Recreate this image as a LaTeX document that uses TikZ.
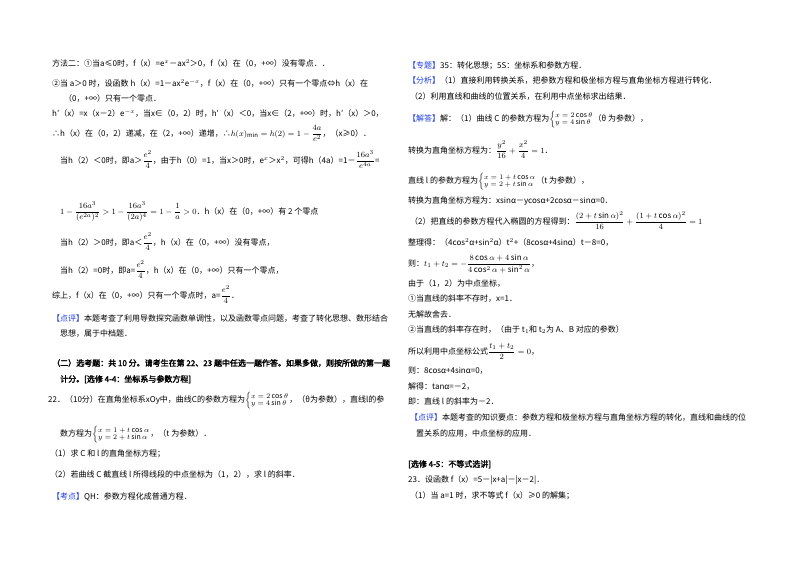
\documentclass[tikz,border=0pt]{standalone}
\usepackage{fontspec}
\usepackage{amsmath}
\setmainfont{Noto Sans CJK SC}
\newfontfamily\cjkb[FakeBold=2.5]{Noto Sans CJK SC}
\definecolor{hb}{RGB}{30,60,220}
\newcommand{\hl}[1]{{\color{hb}【#1】}}
\newcommand{\fr}[2]{\dfrac{#1}{#2}}
\newcommand{\cs}[2]{{\fontsize{7}{8}\selectfont$\left\{\begin{array}{@{}l@{}}#1\\[-1pt] #2\end{array}\right.$}}
\tikzset{t/.style={anchor=base west,inner sep=0pt,font=\fontsize{8}{9}\selectfont}}
\begin{document}
\begin{tikzpicture}[x=1pt,y=-1pt]
\useasboundingbox[fill=white] (0,0) rectangle (800,565);
% left column
\node[t] (l1) at (52,66) {方法二：①当a≤0时，f（x）=e$^x$－ax$^2$＞0，f（x）在（0，+∞）没有零点．．};
\node[t] (l2) at (52,86) {②当 a＞0 时，设函数 h（x）=1－ax$^2$e$^{-x}$，f（x）在（0，+∞）只有一个零点⇔h（x）在};
\node[t] (l3) at (64,101) {（0，+∞）只有一个零点．};
\node[t] (l4) at (52,116) {h′（x）=x（x－2）e$^{-x}$，当x∈（0，2）时，h′（x）＜0，当x∈（2，+∞）时，h′（x）＞0，};
\node[t] (l5) at (52,136) {∴h（x）在（0，2）递减，在（2，+∞）递增，∴$h(x)_{\min}=h(2)=1-\fr{4a}{e^2}$，（x≥0）．};
\node[t] (l6) at (60,163) {当h（2）＜0时，即a＞$\fr{e^2}{4}$，由于h（0）=1，当x＞0时，e$^x$＞x$^2$，可得h（4a）=1－$\fr{16a^3}{e^{4a}}$=};
\node[t] (l7) at (60,214) {$1-\fr{16a^3}{(e^{2a})^2}>1-\fr{16a^3}{(2a)^4}=1-\fr{1}{a}>0$．h（x）在（0，+∞）有 2 个零点};
\node[t] (l8) at (60,245) {当h（2）＞0时，即a＜$\fr{e^2}{4}$，h（x）在（0，+∞）没有零点，};
\node[t] (l9) at (60,273) {当h（2）=0时，即a=$\fr{e^2}{4}$，h（x）在（0，+∞）只有一个零点，};
\node[t] (l10) at (52,298) {综上，f（x）在（0，+∞）只有一个零点时，a=$\fr{e^2}{4}$．};
\node[t] (l11) at (52,321) {\hl{点评}本题考查了利用导数探究函数单调性，以及函数零点问题，考查了转化思想、数形结合};
\node[t] (l12) at (60,336) {思想，属于中档题．};
\node[t,font=\fontsize{8}{9}\cjkb] (l13) at (52,366) {（二）选考题：共 10 分。请考生在第 22、23 题中任选一题作答。如果多做，则按所做的第一题};
\node[t,font=\fontsize{8}{9}\cjkb] (l14) at (60,382) {计分。[选修 4-4：坐标系与参数方程]};
\node[t] (l15) at (48,402) {22．（10分）在直角坐标系xOy中，曲线C的参数方程为\cs{x=2\cos\theta}{y=4\sin\theta}，（θ为参数），直线l的参};
\node[t] (l16) at (60,436) {数方程为\cs{x=1+t\cos\alpha}{y=2+t\sin\alpha}，（t 为参数）．};
\node[t] (l17) at (50,456) {（1）求 C 和 l 的直角坐标方程；};
\node[t] (l18) at (50,477) {（2）若曲线 C 截直线 l 所得线段的中点坐标为（1，2），求 l 的斜率．};
\node[t] (l19) at (52,499) {\hl{考点}QH：参数方程化成普通方程．};
% right column
\node[t] (r1) at (408,68) {\hl{专题}35：转化思想；5S：坐标系和参数方程．};
\node[t] (r2) at (408,83) {\hl{分析}（1）直接利用转换关系，把参数方程和极坐标方程与直角坐标方程进行转化．};
\node[t] (r3) at (410,99) {（2）利用直线和曲线的位置关系，在利用中点坐标求出结果．};
\node[t] (r4) at (408,121) {\hl{解答}解：（1）曲线 C 的参数方程为\cs{x=2\cos\theta}{y=4\sin\theta}（θ 为参数），};
\node[t] (r5) at (408,153) {转换为直角坐标方程为：$\fr{y^2}{16}+\fr{x^2}{4}=1$．};
\node[t] (r6) at (408,183) {直线 l 的参数方程为\cs{x=1+t\cos\alpha}{y=2+t\sin\alpha}（t 为参数），};
\node[t] (r7) at (408,203) {转换为直角坐标方程为：xsinα－ycosα+2cosα－sinα=0．};
\node[t] (r8) at (410,224) {（2）把直线的参数方程代入椭圆的方程得到：$\fr{(2+t\sin\alpha)^2}{16}+\fr{(1+t\cos\alpha)^2}{4}=1$};
\node[t] (r9) at (408,245) {整理得：（4cos$^2$α+sin$^2$α）t$^2$+（8cosα+4sinα）t－8=0，};
\node[t] (r10) at (408,266) {则：$t_1+t_2=-\fr{8\cos\alpha+4\sin\alpha}{4\cos^2\alpha+\sin^2\alpha}$，};
\node[t] (r11) at (408,286) {由于（1，2）为中点坐标，};
\node[t] (r12) at (408,301) {①当直线的斜率不存时，x=1．};
\node[t] (r13) at (408,317) {无解故舍去．};
\node[t] (r14) at (408,332) {②当直线的斜率存在时，（由于 t$_1$和 t$_2$为 A、B 对应的参数）};
\node[t] (r15) at (408,354) {所以利用中点坐标公式$\fr{t_1+t_2}{2}=0$，};
\node[t] (r16) at (408,373) {则：8cosα+4sinα=0，};
\node[t] (r17) at (408,389) {解得：tanα=－2，};
\node[t] (r18) at (408,404) {即：直线 l 的斜率为－2．};
\node[t] (r19) at (410,420) {\hl{点评}本题考查的知识要点：参数方程和极坐标方程与直角坐标方程的转化，直线和曲线的位};
\node[t] (r20) at (416,436) {置关系的应用，中点坐标的应用．};
\node[t,font=\fontsize{8}{9}\cjkb] (r21) at (408,467) {[选修 4-5：不等式选讲]};
\node[t] (r22) at (408,482) {23．设函数 f（x）=5－|x+a|－|x－2|．};
\node[t] (r23) at (410,498) {（1）当 a=1 时，求不等式 f（x）≥0 的解集；};
\end{tikzpicture}
\end{document}
